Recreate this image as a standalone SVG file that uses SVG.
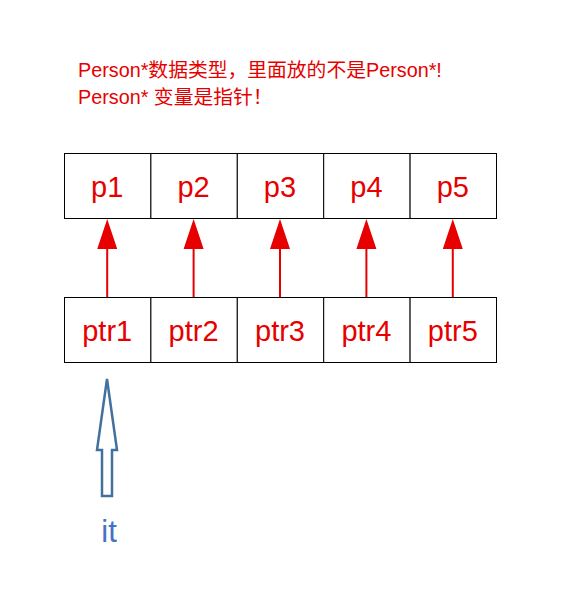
<svg xmlns="http://www.w3.org/2000/svg" width="564" height="598" viewBox="0 0 564 598">
<defs>
<style>
.cell{fill:#fff;stroke:#000;stroke-width:1}
.lbl{font-family:"Liberation Sans","Noto Sans",sans-serif;font-size:29px;fill:#e60000;text-anchor:middle}
.note{font-family:"Liberation Sans","Noto Sans CJK SC",sans-serif;font-size:19.8px;fill:#e60000}
.ptr{stroke:#e60000;stroke-width:2;fill:none}
.head{fill:#e60000}
</style>
</defs>
<rect width="564" height="598" fill="#fff"/>
<g id="note">
<text class="note" x="78" y="77">Person*数据类型，里面放的不是Person*!</text>
<text class="note" x="78" y="104">Person* 变量是指针！</text>
</g>
<g id="p1"><rect class="cell" x="64.5" y="153.5" width="86.4" height="65"/><text class="lbl" x="107.2" y="197">p1</text></g>
<g id="p2"><rect class="cell" x="150.9" y="153.5" width="86.4" height="65"/><text class="lbl" x="193.6" y="197">p2</text></g>
<g id="p3"><rect class="cell" x="237.3" y="153.5" width="86.4" height="65"/><text class="lbl" x="280" y="197">p3</text></g>
<g id="p4"><rect class="cell" x="323.7" y="153.5" width="86.4" height="65"/><text class="lbl" x="366.4" y="197">p4</text></g>
<g id="p5"><rect class="cell" x="410.1" y="153.5" width="86.4" height="65"/><text class="lbl" x="452.8" y="197">p5</text></g>
<g id="ptr1"><rect class="cell" x="64.5" y="297.5" width="86.4" height="65"/><text class="lbl" x="107.2" y="341">ptr1</text></g>
<g id="ptr2"><rect class="cell" x="150.9" y="297.5" width="86.4" height="65"/><text class="lbl" x="193.6" y="341">ptr2</text></g>
<g id="ptr3"><rect class="cell" x="237.3" y="297.5" width="86.4" height="65"/><text class="lbl" x="280" y="341">ptr3</text></g>
<g id="ptr4"><rect class="cell" x="323.7" y="297.5" width="86.4" height="65"/><text class="lbl" x="366.4" y="341">ptr4</text></g>
<g id="ptr5"><rect class="cell" x="410.1" y="297.5" width="86.4" height="65"/><text class="lbl" x="452.8" y="341">ptr5</text></g>
<g id="connectors">
<line class="ptr" x1="107.2" y1="297" x2="107.2" y2="248"/><polygon class="head" points="107.2,219 97.2,249 117.2,249"/>
<line class="ptr" x1="193.6" y1="297" x2="193.6" y2="248"/><polygon class="head" points="193.6,219 183.6,249 203.6,249"/>
<line class="ptr" x1="280" y1="297" x2="280" y2="248"/><polygon class="head" points="280,219 270,249 290,249"/>
<line class="ptr" x1="366.4" y1="297" x2="366.4" y2="248"/><polygon class="head" points="366.4,219 356.4,249 376.4,249"/>
<line class="ptr" x1="452.8" y1="297" x2="452.8" y2="248"/><polygon class="head" points="452.8,219 442.8,249 462.8,249"/>
<polygon points="107,379 117,450 112,450 112,496 102,496 102,450 97,450" fill="#fff" stroke="#41719c" stroke-width="2.5" stroke-linejoin="miter"/>
</g>
<g id="it"><text x="109" y="542" font-family="Liberation Sans,sans-serif" font-size="31" fill="#4472c4" text-anchor="middle">it</text></g>
</svg>
